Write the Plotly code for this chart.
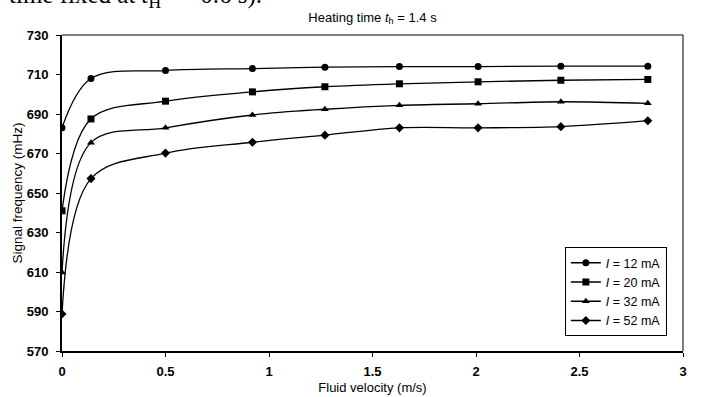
import plotly.graph_objects as go

velocity = [0, 0.14, 0.5, 0.92, 1.27, 1.63, 2.01, 2.41, 2.83]
freq_12mA = [683, 708, 712, 713, 713.7, 714, 714, 714.2, 714.2]
freq_20mA = [641, 687.5, 696.5, 701.2, 703.8, 705.3, 706.3, 707.1, 707.5]
freq_32mA = [609.7, 675.5, 683, 689.5, 692.4, 694.4, 695.2, 696.2, 695.4]
freq_52mA = [588.7, 657.3, 670.2, 675.7, 679.3, 683, 683, 683.6, 686.6]

series = [
    ("<i>I</i> = 12 mA", freq_12mA, "circle"),
    ("<i>I</i> = 20 mA", freq_20mA, "square"),
    ("<i>I</i> = 32 mA", freq_32mA, "triangle-up"),
    ("<i>I</i> = 52 mA", freq_52mA, "diamond"),
]

fig = go.Figure()
for name, ys, sym in series:
    fig.add_trace(go.Scatter(
        x=velocity, y=ys, name=name, mode="lines+markers",
        line=dict(color="black", width=1.3, shape="spline", smoothing=1.0),
        marker=dict(symbol=sym, size=7, color="black"),
    ))

fig.update_layout(
    width=704, height=397,
    margin=dict(l=62, r=21, t=35, b=46),
    paper_bgcolor="white", plot_bgcolor="white",
    font=dict(family="Liberation Sans, Arial", size=12, color="black"),
    title=dict(text="Heating time <i>t</i><sub>h</sub> = 1.4 s", x=0.5, xref="paper",
               xanchor="center", y=(397 - 17) / 397, yref="container", yanchor="middle",
               font=dict(size=13, color="black")),
    showlegend=True,
    legend=dict(x=0.974, y=0.047, xanchor="right", yanchor="bottom",
                bordercolor="black", borderwidth=1, bgcolor="white",
                font=dict(size=12.5), tracegroupgap=0, itemwidth=30),
    xaxis=dict(range=[0, 3], dtick=0.5, showgrid=False, zeroline=False,
               showline=True, linecolor="black", linewidth=2,
               ticks="outside", ticklen=4, tickcolor="black", ticklabelstandoff=3,
               tickfont=dict(size=13, weight="bold"), automargin=False,
               title=dict(text="Fluid velocity (m/s)", standoff=5, font=dict(size=13))),
    yaxis=dict(range=[570, 730], tick0=570, dtick=20, showgrid=False, zeroline=False,
               showline=True, linecolor="black", linewidth=2,
               ticks="outside", ticklen=4, tickcolor="black", ticklabelstandoff=5,
               tickfont=dict(size=13, weight="bold"), automargin=False,
               title=dict(text="Signal frequency (mHz)", standoff=1, font=dict(size=13.5))),
    shapes=[
        dict(type="line", xref="paper", yref="paper", x0=0, x1=1, y0=1, y1=1,
             line=dict(color="black", width=1)),
        dict(type="line", xref="paper", yref="paper", x0=1, x1=1, y0=0, y1=1,
             line=dict(color="black", width=1)),
    ],
    annotations=[
        dict(text="time fixed at <i>t</i><sub>H</sub>&nbsp; =&nbsp; 0.6 s).", xref="paper", yref="paper",
             x=-0.0886, y=1.1234, xanchor="left", yanchor="middle", showarrow=False,
             font=dict(family="Liberation Serif, Times New Roman", size=25, color="black")),
    ],
)

fig.write_html("out.html", config={"displayModeBar": False},
               post_script="document.body.style.margin='0';")
